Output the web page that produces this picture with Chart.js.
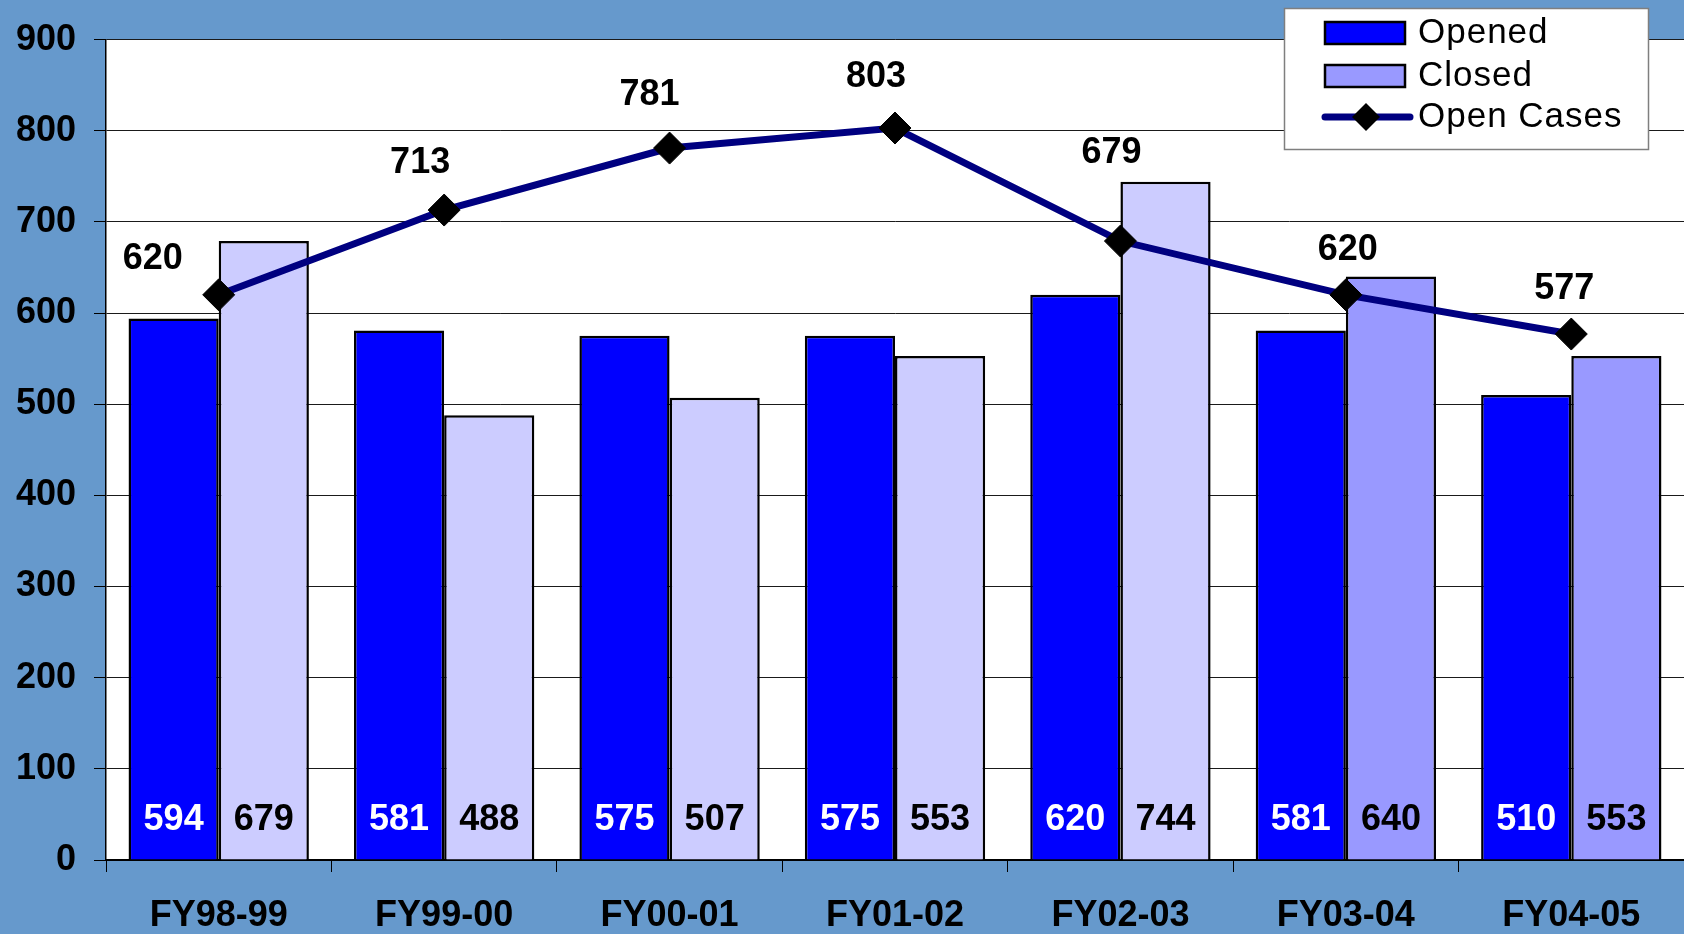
<!DOCTYPE html>
<html>
<head>
<meta charset="utf-8">
<script src="https://cdn.jsdelivr.net/npm/chart.js@4/dist/chart.umd.min.js"></script>
<style>
    html, body { margin: 0; padding: 0; background: #6699CC; }
    #grafico { display: block; }
</style>
</head>
<body>
<canvas id="grafico" width="1684" height="934"></canvas>
<script>
const categories = ["FY98-99", "FY99-00", "FY00-01", "FY01-02", "FY02-03", "FY03-04", "FY04-05"];
const opened = [594, 581, 575, 575, 620, 581, 510];
const closed = [679, 488, 507, 553, 744, 640, 553];
const openCases = [620, 713, 781, 803, 679, 620, 577];
const yMin = 0;
const yMax = 900;
const yStep = 100;

const FONT = "'Liberation Sans', Arial, sans-serif";

document.addEventListener("DOMContentLoaded", () => {

    // fondo blanco del area de trazado
    const plotBg = {
        id: "plotBg",
        beforeDraw(chart) {
            const { ctx, chartArea: a } = chart;
            ctx.save();
            ctx.fillStyle = "#6699CC";
            ctx.fillRect(0, 0, chart.width, chart.height);
            ctx.fillStyle = "#FFFFFF";
            ctx.fillRect(a.left, a.top, a.right - a.left, a.bottom - a.top);
            ctx.restore();
        }
    };

    // etiquetas de valores
    const valueLabels = {
        id: "valueLabels",
        afterDatasetsDraw(chart, args, opts) {
            const { ctx, chartArea } = chart;
            ctx.save();
            ctx.font = "bold 36px " + FONT;
            ctx.textAlign = "center";
            ctx.textBaseline = "middle";
            chart.data.datasets.forEach((ds, di) => {
                const meta = chart.getDatasetMeta(di);
                meta.data.forEach((el, i) => {
                    if (ds.type === "line") {
                        const off = opts.lineOffsets[i];
                        ctx.fillStyle = "#000000";
                        ctx.fillText(ds.data[i], el.x + off[0], el.y + off[1]);
                    } else {
                        ctx.fillStyle = ds.labelColor;
                        ctx.fillText(ds.data[i], el.x, chartArea.bottom - 40);
                    }
                });
            });
            ctx.restore();
        }
    };

    // leyenda
    const boxLegend = {
        id: "boxLegend",
        afterDraw(chart) {
            const { ctx } = chart;
            const ds = chart.data.datasets;
            ctx.save();
            ctx.fillStyle = "#FFFFFF";
            ctx.fillRect(1284, 8, 364, 141);
            ctx.strokeStyle = "#7F7F7F";
            ctx.lineWidth = 1.5;
            ctx.strokeRect(1284.5, 8.5, 364, 141);

            const rows = [33, 76, 117];
            ctx.font = "35px " + FONT;
            ctx.textAlign = "left";
            ctx.textBaseline = "middle";
            if ("letterSpacing" in ctx) ctx.letterSpacing = "1px";
            [1, 2, 0].forEach((di, r) => {
                const d = ds[di];
                const y = rows[r];
                if (d.type === "line") {
                    ctx.strokeStyle = d.borderColor;
                    ctx.lineWidth = 7;
                    ctx.lineCap = "round";
                    ctx.beginPath();
                    ctx.moveTo(1325, y);
                    ctx.lineTo(1410, y);
                    ctx.stroke();
                    ctx.fillStyle = "#000000";
                    ctx.beginPath();
                    ctx.moveTo(1366, y - 14);
                    ctx.lineTo(1380, y);
                    ctx.lineTo(1366, y + 14);
                    ctx.lineTo(1352, y);
                    ctx.closePath();
                    ctx.fill();
                } else {
                    ctx.fillStyle = d.legendColor;
                    ctx.fillRect(1325, y - 11, 80, 22);
                    ctx.strokeStyle = "#000000";
                    ctx.lineWidth = 2.5;
                    ctx.strokeRect(1325, y - 11, 80, 22);
                }
                ctx.fillStyle = "#000000";
                ctx.fillText(d.label, 1418, y);
            });
            ctx.restore();
        }
    };

    new Chart(document.getElementById("grafico"), {
        data: {
            labels: categories,
            datasets: [{
                type: "line",
                label: "Open Cases",
                data: openCases,
                borderColor: "#000080",
                borderWidth: 7,
                tension: 0,
                pointStyle: "rectRot",
                pointRadius: 16,
                pointBackgroundColor: "#000000",
                pointBorderColor: "#000000",
                pointBorderWidth: 1,
                order: 0
            }, {
                type: "bar",
                label: "Opened",
                data: opened,
                backgroundColor: "#0000FF",
                legendColor: "#0000FF",
                labelColor: "#FFFFFF",
                borderColor: "#000000",
                borderWidth: 2.5,
                categoryPercentage: 0.8,
                barPercentage: 1.0,
                order: 1
            }, {
                type: "bar",
                label: "Closed",
                data: closed,
                backgroundColor: ["#CCCCFF", "#CCCCFF", "#CCCCFF", "#CCCCFF", "#CCCCFF", "#9999FF", "#9999FF"],
                legendColor: "#9999FF",
                labelColor: "#000000",
                borderColor: "#000000",
                borderWidth: 2.5,
                categoryPercentage: 0.8,
                barPercentage: 1.0,
                order: 1
            }]
        },
        options: {
            responsive: false,
            devicePixelRatio: 1,
            animation: false,
            layout: {
                autoPadding: false,
                padding: { top: 19, right: 0, bottom: 0, left: 0 }
            },
            plugins: {
                legend: { display: false },
                tooltip: { enabled: false },
                valueLabels: {
                    lineOffsets: [[-66, -36], [-24, -47], [-20, -53], [-19, -51], [-9, -88], [2, -45], [-7, -45]]
                }
            },
            scales: {
                x: {
                    offset: true,
                    grid: {
                        display: true,
                        offset: true,
                        drawOnChartArea: false,
                        tickLength: 12,
                        tickColor: "#000000"
                    },
                    border: { color: "#000000", width: 2 },
                    ticks: {
                        color: "#000000",
                        font: { family: FONT, size: 36, weight: "bold" },
                        padding: 22,
                        maxRotation: 0
                    },
                    afterFit(scale) { scale.height = 74; }
                },
                y: {
                    min: yMin,
                    max: yMax,
                    grid: {
                        color: "#1A1A1A",
                        lineWidth: 1,
                        tickLength: 12,
                        tickColor: "#000000"
                    },
                    border: { color: "#000000", width: 1.5 },
                    ticks: {
                        stepSize: yStep,
                        color: "#000000",
                        font: { family: FONT, size: 36, weight: "bold" },
                        padding: 18
                    },
                    afterFit(scale) { scale.width = 106; }
                }
            }
        },
        plugins: [plotBg, valueLabels, boxLegend]
    });

});
</script>
</body>
</html>
